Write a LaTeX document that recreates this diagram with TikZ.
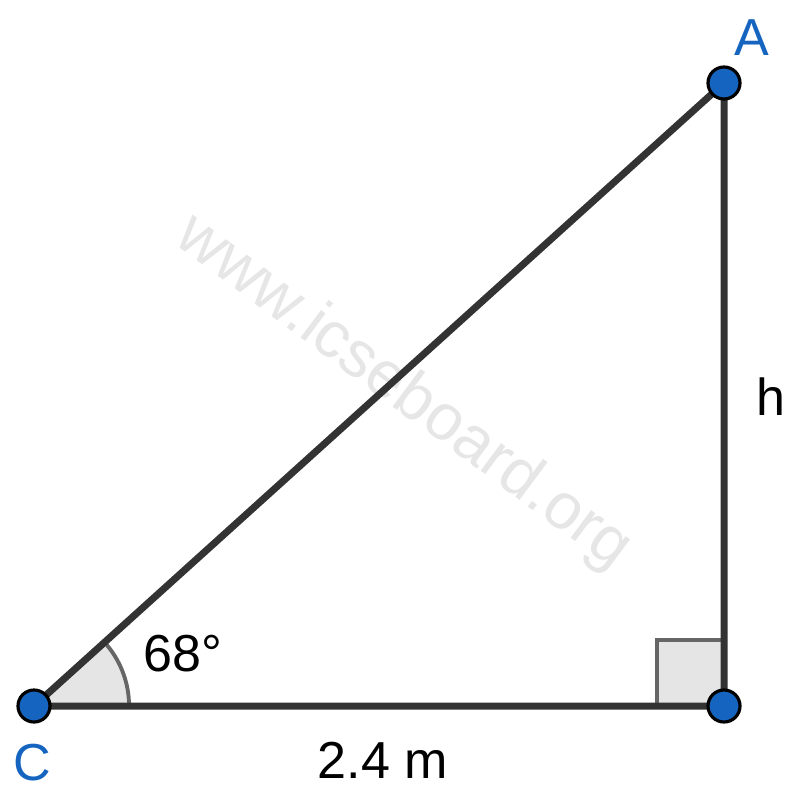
\documentclass[tikz,border=0pt]{standalone}
\usepackage{fontspec}
\setmainfont{Liberation Sans}
\usetikzlibrary{positioning}
\definecolor{point_blue}{HTML}{1565C0}
\definecolor{side_grey}{HTML}{333333}
\definecolor{mark_grey}{HTML}{666666}
\definecolor{mark_fill}{HTML}{E5E5E5}
\definecolor{water_grey}{HTML}{E6E6E6}

\begin{document}
\begin{tikzpicture}[
                        x=0.01cm, y=-0.01cm,
                        side/.style={draw=side_grey, line width=2pt, line join=round},
                        vertex/.style={circle, draw=black, fill=point_blue, line width=0.9pt, minimum size=0.32cm, inner sep=0pt},
                        vertex_label/.style={text=point_blue, font=\fontsize{14.8}{16}\selectfont},
                        side_label/.style={font=\fontsize{14.8}{16}\selectfont},
                        angle_mark/.style={draw=mark_grey, line width=1.1pt},
                    ]
                        \useasboundingbox (0,0) rectangle (801,791);

                        % watermark
                        \node[text=water_grey, rotate=-36.6, font=\fontsize{18.5}{20}\selectfont] (watermark) at (403,393) {www.icseboard.org};

                        % vertices
                        \coordinate (C) at (34,706);
                        \coordinate (B) at (724,706);
                        \coordinate (A) at (724,83);

                        % angle marks
                        \fill[mark_fill] (C) -- ++(95,0) arc[start angle=0, end angle=-42.1, radius=95] -- cycle;
                        \draw[angle_mark] ([xshift=0.95cm] C) arc[start angle=0, end angle=-42.1, radius=95];
                        \fill[mark_fill] ([xshift=-0.67cm] B) rectangle ([yshift=0.66cm] B);
                        \draw[angle_mark] ([xshift=-0.67cm] B) -- ++(0,-66) -- ++(67,0);

                        % sides
                        \draw[side] (C) -- (B) -- (A) -- cycle;

                        % points
                        \node[vertex] (point_C) at (C) {};
                        \node[vertex] (point_B) at (B) {};
                        \node[vertex] (point_A) at (A) {};

                        % labels
                        \node[vertex_label] (label_A) at (752,38) {A};
                        \node[vertex_label] (label_C) at (32,763) {C};
                        \node[side_label] (label_h) at (771,397) {h};
                        \node[side_label] (label_base) at (383,760) {2.4 m};
                        \node[side_label] (label_angle) at (183,654) {68°};
                    \end{tikzpicture}
\end{document}
